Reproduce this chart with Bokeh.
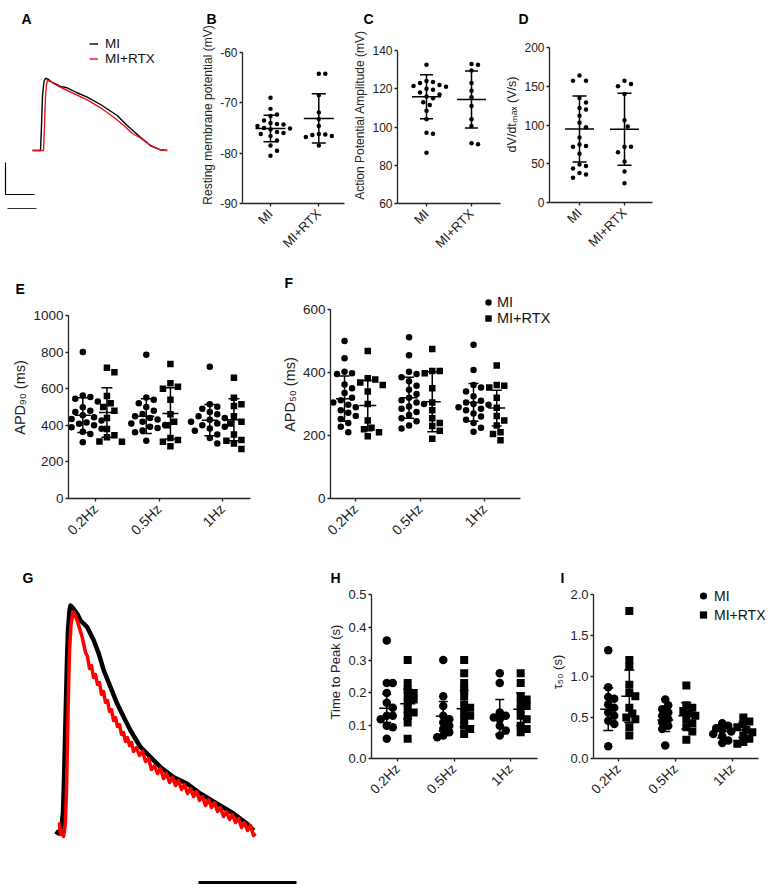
import numpy as np
from bokeh.plotting import figure
from bokeh.models import (Range1d, FixedTicker, Legend, LegendItem)
from bokeh.layouts import row, column
from bokeh.embed import file_html
from bokeh.resources import INLINE

FONT = "Liberation Sans"

# ---------------- data ----------------
groups = ["MI", "MI+RTX"]
freqs = ["0.2Hz", "0.5Hz", "1Hz"]

# A: representative action potentials (time, voltage; arbitrary units)
A_t_MI = [0, 8, 9, 10, 11.5, 13, 16, 20, 28, 34.7, 44, 54.7, 68, 84.7, 94.7, 108, 118, 128, 134.7]
A_v_MI = [0, 0, 25, 55, 69, 72.3, 71, 68, 64, 62.7, 58, 53.3, 46, 35, 25, 13.3, 5, 0.7, 0]
A_t_RTX = [0, 11, 12, 13, 14, 15, 18, 24.7, 34.7, 54.7, 68, 81.3, 91.3, 100, 108, 118, 128, 134.7]
A_v_RTX = [0, 0, 25, 55, 66, 70, 69, 65, 60, 50.7, 42.7, 33.3, 25, 17, 12.5, 4.7, 0.7, 0]

# B: resting membrane potential (mV)
B_MI = [-69.0, -71.2, -72.3, -72.6, -73.5, -74.0, -74.2, -74.3, -74.6, -75.0,
        -75.1, -75.3, -75.8, -76.0, -76.2, -76.6, -77.5, -78.5, -79.5, -80.5]
B_RTX = [-64.2, -64.2, -68.5, -71.9, -73.2, -74.6, -76.2, -76.3, -76.4, -76.6, -76.8, -78.5]
B_mean = [-75.1, -73.1]
B_sd = [2.65, 4.9]

# C: action potential amplitude (mV)
C_MI = [132.5, 124, 123.5, 123, 122, 121.5, 121, 120, 119.5, 118, 117, 116, 115, 113,
        111.5, 108.5, 104, 97, 96.5, 86.5]
C_RTX = [133, 132.5, 129.5, 123, 119, 115.5, 111, 104, 100.5, 91, 91.5]
C_mean = [115.8, 114.4]
C_sd = [11.5, 14.9]

# D: dV/dt max (V/s)
D_MI = [164, 157, 157, 135, 129, 122, 120, 112, 103, 97, 84, 73, 72, 75, 63, 49, 47, 44, 38, 36, 32]
D_RTX = [157, 153, 150, 140, 106, 98, 72, 72, 65, 53, 40, 25]
D_mean = [94.8, 94.5]
D_sd = [42.7, 46.5]

# E: APD90 (ms) per frequency
E_MI = [[800, 563, 555, 545, 530, 499, 480, 472, 455, 444, 435, 426, 420, 415, 408, 400, 390, 381, 365, 353, 308],
        [785, 552, 540, 520, 500, 480, 462, 450, 440, 432, 420, 410, 402, 392, 385, 372, 362, 315],
        [720, 515, 502, 490, 472, 460, 450, 440, 430, 420, 410, 400, 392, 382, 370, 350, 330, 300]]
E_RTX = [[715, 690, 560, 520, 500, 480, 440, 380, 345, 335, 312, 310],
         [735, 630, 610, 600, 540, 460, 420, 400, 330, 320, 310, 285],
         [660, 550, 515, 505, 450, 420, 410, 350, 320, 315, 300, 270]]
E_MI_mean = [455, 450, 428]
E_MI_sd = [95, 95, 85]
E_RTX_mean = [470, 465, 430]
E_RTX_sd = [135, 140, 115]

# F: APD50 (ms)
F_MI = [[500, 445, 402, 398, 395, 362, 350, 335, 320, 312, 305, 298, 290, 280, 272, 262, 252, 240, 228, 210],
        [512, 455, 402, 395, 385, 372, 358, 345, 332, 320, 312, 305, 300, 292, 285, 275, 265, 255, 245, 232, 222],
        [488, 408, 360, 352, 340, 325, 310, 305, 300, 298, 290, 285, 280, 270, 260, 250, 240, 225, 212]]
F_RTX = [[468, 382, 378, 368, 360, 340, 300, 248, 225, 220, 210, 198],
         [475, 405, 405, 398, 350, 305, 280, 255, 240, 230, 215, 190],
         [422, 360, 358, 352, 320, 288, 262, 248, 232, 210, 205, 185]]
F_MI_mean = [317, 320, 305]
F_MI_sd = [72, 65, 60]
F_RTX_mean = [295, 307, 287]
F_RTX_sd = [80, 95, 57]

# G: representative Ca transients (time, amplitude; arbitrary units)
G_t_MI = [-1, 2, 5, 6.5, 7.5, 8.5, 9.5, 10.5, 11.5, 13, 14, 16, 20.7, 24, 30.7, 37.3, 42.3, 47.3, 54,
          60.7, 67.3, 74, 84, 94, 104, 117.3, 130.7, 144, 160.7, 177.3, 190.7, 197.3]
G_v_MI = [-1, -3, 4, 18, 50, 90, 130, 170, 200, 220, 225, 223, 216.7, 210, 203.3, 190, 176.7, 160, 143.3,
          126.7, 113.3, 100, 83.3, 73.3, 63.3, 53.3, 46.7, 36.7, 26.7, 16.7, 6.7, 0]
G_t_RTX = [3, 4, 6, 7, 8, 9, 10, 11, 12, 13, 14.5, 16, 17.3, 20.7, 25.7,
           29, 31, 33, 35, 37, 39, 41, 43, 45, 47, 49, 51, 53, 55, 57, 59, 61, 63, 65, 67, 69, 71, 73, 75, 77,
           80, 83, 86, 89, 92, 95, 98, 101, 104, 107, 110, 113, 116, 119, 122, 125, 128, 131, 134, 137,
           140, 143, 146, 149, 152, 155, 158, 161, 164, 167, 170, 173, 176, 179, 182, 185, 188, 191, 194, 197,
           199]
G_v_RTX = [8, -4, 0, -6, 0, 10, 40, 90, 140, 180, 205, 216, 218.3, 210, 193.3,
           178, 174, 162, 165, 153, 156, 146, 148, 136, 139, 128, 130, 119, 121, 110, 113, 104, 106, 96, 98,
           89, 93, 85, 88, 79,
           83, 75, 79, 69, 72, 61, 65, 57, 62, 52, 57, 48, 53, 45, 50, 41, 46, 37, 42, 34,
           39, 30, 34, 25, 31, 23, 28, 19, 23, 14, 19, 11, 16, 8, 12, 3, 8, 0, 5, -5,
           -3]

# H: time to peak (s)
H_MI = [[0.36, 0.23, 0.23, 0.20, 0.17, 0.155, 0.13, 0.13, 0.12, 0.10, 0.095, 0.06],
        [0.30, 0.19, 0.16, 0.13, 0.12, 0.11, 0.10, 0.09, 0.08, 0.07, 0.065],
        [0.26, 0.23, 0.14, 0.13, 0.125, 0.12, 0.10, 0.085, 0.07]]
H_RTX = [[0.30, 0.23, 0.21, 0.20, 0.19, 0.18, 0.17, 0.15, 0.14, 0.13, 0.11, 0.06],
         [0.30, 0.26, 0.23, 0.21, 0.19, 0.165, 0.155, 0.14, 0.13, 0.12, 0.10, 0.09, 0.075],
         [0.26, 0.23, 0.19, 0.18, 0.17, 0.16, 0.15, 0.13, 0.12, 0.10, 0.09, 0.08]]
H_MI_mean = [0.153, 0.129, 0.127]
H_MI_sd = [0.043, 0.045, 0.053]
H_RTX_mean = [0.167, 0.152, 0.150]
H_RTX_sd = [0.045, 0.055, 0.05]

# I: tau50 (s)
I_MI = [[1.32, 0.87, 0.75, 0.73, 0.66, 0.62, 0.56, 0.52, 0.46, 0.42, 0.15],
        [0.72, 0.65, 0.60, 0.56, 0.52, 0.48, 0.44, 0.40, 0.36, 0.16],
        [0.43, 0.40, 0.37, 0.35, 0.33, 0.30, 0.27, 0.22, 0.19]]
I_RTX = [[1.80, 1.20, 1.12, 0.90, 0.80, 0.76, 0.62, 0.55, 0.50, 0.48, 0.38, 0.28],
         [0.89, 0.65, 0.62, 0.58, 0.55, 0.52, 0.48, 0.43, 0.38, 0.33, 0.23],
         [0.50, 0.45, 0.42, 0.38, 0.35, 0.32, 0.28, 0.24, 0.20, 0.18]]
I_MI_mean = [0.60, 0.47, 0.33]
I_MI_sd = [0.26, 0.14, 0.08]
I_RTX_mean = [0.76, 0.52, 0.35]
I_RTX_sd = [0.32, 0.16, 0.09]

# scale bars (trace units)
A_bar_t0, A_bar_tlen, A_bar_v0, A_bar_vlen = -27, 29, -44, 32
A_bar2_t0, A_bar2_v = -25, -58
G_bar_t0, G_bar_tlen, G_bar_v = 142, 98, -52


# ---------------- helpers ----------------
def swarm(vals, ppx, ppy, d):
    v = np.asarray(vals, dtype=float)
    order = np.argsort(-v, kind="stable")
    cands = [0.0]
    for k in range(1, 40):
        cands += [k * d / 2, -k * d / 2]
    placed = []
    out = np.zeros(len(v))
    for i in order:
        y = v[i] * ppy
        for c in cands:
            if all((c - px) ** 2 + (y - py) ** 2 >= d * d for px, py in placed):
                break
        placed.append((c, y))
        out[i] = c / ppx
    return out


def set_letter(p, text, offset):
    p.title.text = text
    p.title.align = "left"
    p.title.offset = offset
    p.title.standoff = 0
    p.title.vertical_align = "bottom"
    p.title.text_font = FONT
    p.title.text_font_size = "14px"
    p.title.text_font_style = "bold"
    p.title.text_color = "black"


def no_align(p):
    try:
        p.frame_align = False
    except Exception:
        pass


def trace_fig(cl, cr, rt, rb, ft, xr, yr):
    p = figure(frame_width=cr - cl, frame_height=rb - ft,
               min_border_left=0, min_border_right=0, min_border_top=ft - rt, min_border_bottom=0,
               x_range=Range1d(*xr), y_range=Range1d(*yr),
               output_backend="svg", toolbar_location=None, tools="")
    p.axis.visible = False
    p.grid.visible = False
    p.outline_line_color = None
    no_align(p)
    return p


def dot_panel(g, ylim, yticks, ylabel, cats, series, fs_tick, fs_label, fs_cat, ndec=None):
    fl, fr, ar, ft, fb, at = g["fl"], g["fr"], g["ar"], g["ft"], g["fb"], g["at"]
    sp, t0 = g["sp"], g["t0"]
    x0 = -(t0 - fl) / sp
    xr = (x0, (fr - t0) / sp)
    xb = (x0, (ar - t0) / sp)
    ymin, ymax = ylim
    ppy = (fb - at) / (ymax - ymin)
    yr = (ymin, ymax + (at - ft) / ppy)
    ppx = sp
    p = figure(frame_width=fr - fl, frame_height=fb - ft,
               min_border_left=fl - g["cl"], min_border_right=g["cr"] - fr,
               min_border_top=ft - g["rt"], min_border_bottom=g["rb"] - fb,
               x_range=Range1d(*xr), y_range=Range1d(*yr),
               output_backend="svg", toolbar_location=None, tools="")
    no_align(p)
    p.outline_line_color = None
    p.grid.visible = False
    rends = []
    for s in series:
        xs, ys = [], []
        for i, vals in enumerate(s["vals"]):
            off = swarm(vals, ppx, ppy, s["d"])
            xs += list(i + s["dx"] + off)
            ys += list(vals)
        r = p.scatter(xs, ys, marker=s["marker"], size=s["size"],
                      fill_color="black", line_color=None)
        rends.append(r)
    for s in series:
        xc = [i + s["dx"] for i in range(len(s["vals"]))]
        m = np.array(s["mean"], dtype=float)
        sd = np.array(s["sd"], dtype=float)
        p.segment(xc, m - sd, xc, m + sd, line_width=1.5, line_color="black")
        p.scatter(xc, m, marker="dash", size=s["mw"], line_width=1.5, line_color="black")
        p.scatter(xc + xc, list(m - sd) + list(m + sd), marker="dash", size=s["cw"],
                  line_width=1.5, line_color="black")
    for ax in p.axis:
        ax.axis_line_width = 1.3
        ax.axis_line_color = "#222222"
        ax.major_tick_line_color = "#222222"
        ax.major_tick_line_width = 1.3
        ax.major_tick_in = 0
        ax.major_tick_out = 3
        ax.minor_tick_line_color = None
        ax.major_label_text_font = FONT
        ax.major_label_text_color = "#222222"
        ax.axis_label_text_font = FONT
        ax.axis_label_text_font_style = "normal"
        ax.axis_label_text_color = "#222222"
        ax.major_label_standoff = 2
        ax.axis_label_standoff = 2
    p.yaxis.ticker = FixedTicker(ticks=yticks, minor_ticks=[])
    p.yaxis.bounds = (ymin, ymax)
    if ndec is None:
        p.yaxis.major_label_overrides = {t: f"{t:g}" for t in yticks}
    else:
        p.yaxis.major_label_overrides = {t: f"{t:.{ndec}f}" for t in yticks}
    p.yaxis.major_label_text_font_size = fs_tick
    p.yaxis.axis_label = ylabel
    p.yaxis.axis_label_text_font_size = fs_label
    p.xaxis.ticker = FixedTicker(ticks=list(range(len(cats))), minor_ticks=[])
    p.xaxis.bounds = xb
    p.xaxis.major_label_overrides = {i: c for i, c in enumerate(cats)}
    p.xaxis.major_label_orientation = np.pi / 4
    p.xaxis.major_label_text_font_size = fs_cat
    p.xaxis.major_label_standoff = 5
    return p, rends


def add_legend(p, items, loc, fs, gw, gh, standoff):
    lg = Legend(items=items, location=loc, orientation="vertical",
                label_text_font=FONT, label_text_font_size=fs, label_text_color="#111111",
                glyph_width=gw, glyph_height=gh, label_height=gh, label_width=10,
                label_standoff=standoff, spacing=0, padding=0, margin=0,
                border_line_color=None, background_fill_alpha=0)
    p.add_layout(lg)


# ---------------- row 1 (y 0..270) ----------------
pA = trace_fig(0, 198, 0, 270, 26, (-32, 166), (-120, 124))
lA1 = pA.line(A_t_MI, A_v_MI, line_color="black", line_width=1.4)
lA2 = pA.line(A_t_RTX, A_v_RTX, line_color="#e8141c", line_width=1.4)
pA.line([A_bar_t0, A_bar_t0, A_bar_t0 + A_bar_tlen],
        [A_bar_v0 + A_bar_vlen, A_bar_v0, A_bar_v0], line_color="black", line_width=1.2)
pA.line([A_bar2_t0, A_bar2_t0 + A_bar_tlen], [A_bar2_v, A_bar2_v], line_color="#333333", line_width=1.2)
add_legend(pA, [LegendItem(label="MI", renderers=[lA1]), LegendItem(label="MI+RTX", renderers=[lA2])],
           (89, 204), "13.5px", 9, 15, 7)
set_letter(pA, "A", 21)

gB = dict(cl=198, cr=343, rt=0, rb=270, fl=238, fr=340, ar=340, ft=26, fb=203, at=52, t0=266, sp=48.3)
pB, _ = dot_panel(gB, (-90, -60), [-90, -80, -70, -60],
                  "Resting membrane potential (mV)", groups,
                  [dict(vals=[B_MI, B_RTX], dx=0, marker="circle", size=4.5, d=6.5,
                        mean=B_mean, sd=B_sd, mw=30, cw=14)], "12px", "12px", "13px")
set_letter(pB, "B", -36)

gC = dict(cl=343, cr=498, rt=0, rb=270, fl=393, fr=496, ar=496, ft=26, fb=203, at=50, t0=422, sp=45)
pC, _ = dot_panel(gC, (60, 140), [60, 80, 100, 120, 140],
                  "Action Potential Amplitude (mV)", groups,
                  [dict(vals=[C_MI, C_RTX], dx=0, marker="circle", size=4.5, d=6.5,
                        mean=C_mean, sd=C_sd, mw=29, cw=13)], "12px", "12px", "13px")
set_letter(pC, "C", -34)

gD = dict(cl=498, cr=660, rt=0, rb=270, fl=545, fr=648, ar=648, ft=26, fb=202, at=47, t0=575, sp=45)
pD, _ = dot_panel(gD, (0, 200), [0, 50, 100, 150, 200],
                  "dV/dtₘₐₓ (V/s)", groups,
                  [dict(vals=[D_MI, D_RTX], dx=0, marker="circle", size=4.5, d=6.5,
                        mean=D_mean, sd=D_sd, mw=29, cw=14)], "12px", "12.5px", "13px")
set_letter(pD, "D", -31)

# ---------------- row 2 (y 270..565) ----------------
gE = dict(cl=0, cr=278, rt=270, rb=565, fl=68, fr=250, ar=250, ft=296, fb=498, at=315, t0=95, sp=63.5)
pE, _ = dot_panel(gE, (0, 1000), [0, 200, 400, 600, 800, 1000],
                  "APD₉₀ (ms)", freqs,
                  [dict(vals=E_MI, dx=-0.2, marker="circle", size=6.5, d=7.5,
                        mean=E_MI_mean, sd=E_MI_sd, mw=16, cw=11),
                   dict(vals=E_RTX, dx=0.18, marker="square", size=6.5, d=7.5,
                        mean=E_RTX_mean, sd=E_RTX_sd, mw=16, cw=11)],
                  "13.5px", "14.5px", "14px")
set_letter(pE, "E", -53)

gF = dict(cl=278, cr=570, rt=270, rb=565, fl=329, fr=565, ar=519, ft=290, fb=498, at=309, t0=354, sp=64.5)
pF, rF = dot_panel(gF, (0, 600), [0, 200, 400, 600],
                   "APD₅₀ (ms)", freqs,
                   [dict(vals=F_MI, dx=-0.17, marker="circle", size=6.5, d=7.5,
                         mean=F_MI_mean, sd=F_MI_sd, mw=17, cw=10),
                    dict(vals=F_RTX, dx=0.19, marker="square", size=6.5, d=7.5,
                         mean=F_RTX_mean, sd=F_RTX_sd, mw=17, cw=10)],
                   "13.5px", "14.5px", "14px")
add_legend(pF, [LegendItem(label="MI", renderers=[rF[0]]), LegendItem(label="MI+RTX", renderers=[rF[1]])],
           (150, 172), "14.5px", 16, 16, 1)
set_letter(pF, "F", -46)

# ---------------- row 3 (y 565..884) ----------------
pG = trace_fig(0, 325, 565, 884, 585, (-56, 269), (-54, 245))
pG.line(G_t_MI, G_v_MI, line_color="black", line_width=4.5, line_join="round")
pG.line(G_t_RTX, G_v_RTX, line_color="#ff0000", line_width=3.5, line_join="round")
pG.line([G_bar_t0, G_bar_t0 + G_bar_tlen], [G_bar_v, G_bar_v], line_color="black", line_width=3)
set_letter(pG, "G", 22)

gH = dict(cl=325, cr=546, rt=565, rb=884, fl=370, fr=536, ar=536, ft=585, fb=758, at=594, t0=396, sp=56.5)
pH, _ = dot_panel(gH, (0, 0.5), [0, 0.1, 0.2, 0.3, 0.4, 0.5],
                  "Time to Peak (s)", freqs,
                  [dict(vals=H_MI, dx=-0.19, marker="circle", size=8.5, d=6,
                        mean=H_MI_mean, sd=H_MI_sd, mw=15, cw=9),
                   dict(vals=H_RTX, dx=0.18, marker="square", size=8, d=6,
                        mean=H_RTX_mean, sd=H_RTX_sd, mw=15, cw=9)],
                  "13px", "13px", "13.5px", ndec=1)
set_letter(pH, "H", -41)

gI = dict(cl=546, cr=767, rt=565, rb=884, fl=592, fr=767, ar=757, ft=585, fb=758, at=594, t0=617, sp=57)
pI, rI = dot_panel(gI, (0, 2), [0, 0.5, 1.0, 1.5, 2.0],
                   "τ₅₀ (s)", freqs,
                   [dict(vals=I_MI, dx=-0.18, marker="circle", size=8.5, d=6,
                         mean=I_MI_mean, sd=I_MI_sd, mw=16, cw=10),
                    dict(vals=I_RTX, dx=0.19, marker="square", size=8, d=6,
                         mean=I_RTX_mean, sd=I_RTX_sd, mw=16, cw=10)],
                   "13px", "13px", "13.5px", ndec=1)
add_legend(pI, [LegendItem(label="MI", renderers=[rI[0]]), LegendItem(label="MI+RTX", renderers=[rI[1]])],
           (101, 134), "14px", 18, 19, 2)
set_letter(pI, "I", -33)

layout = column(row(column(pA), pB, pC, pD), row(pE, pF), row(column(pG), pH, pI))

with open("out.html", "w") as f:
    f.write(file_html(layout, INLINE))
